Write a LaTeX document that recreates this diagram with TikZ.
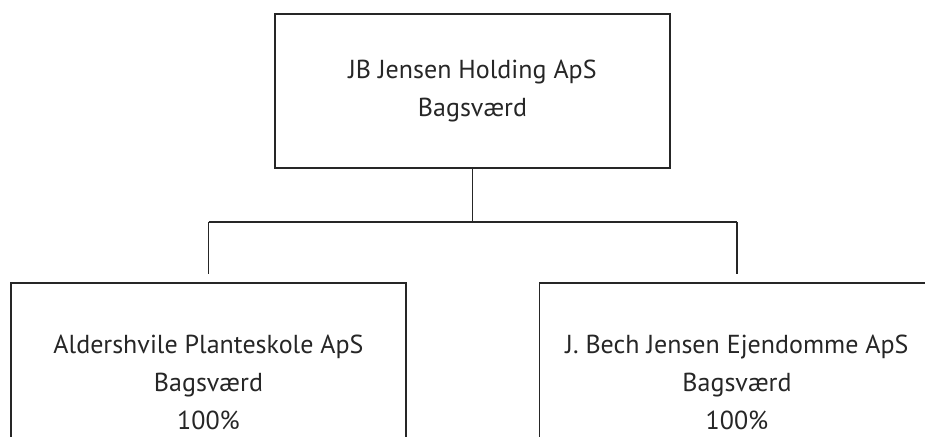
\documentclass[tikz,border=0pt]{standalone}
\usepackage{fontspec}
\setmainfont{PT Sans}
\usetikzlibrary{positioning}

\tikzset{
  firmbox/.style={draw=black!85,line width=1.7pt,align=center,text=black!85,
    font=\fontsize{26}{38}\selectfont,inner sep=0pt,minimum width=395pt},
  link/.style={draw=black!85,line width=1.7pt}
}

\begin{document}
\begin{tikzpicture}[x=1pt,y=-1pt]
\clip (0,0) rectangle (925,436);

% company boxes:
\node[firmbox,minimum height=154pt] (holding) at (472.5,91) {JB Jensen Holding ApS\\Bagsværd};
\node[firmbox,minimum height=198pt] (plant) at (208.5,382) {Aldershvile Planteskole ApS\\Bagsværd\\100\%};
\node[firmbox,minimum height=198pt] (ejendom) at (737,382) {J. Bech Jensen Ejendomme ApS\\Bagsværd\\100\%};

% ownership lines:
\coordinate[below=53pt of holding.south] (split);
\coordinate (splitL) at (split -| plant.north);
\coordinate (splitR) at (split -| ejendom.north);
\draw[link] (holding.south) -- (split);
\draw[link] (splitL) -- (splitR);
\draw[link] (splitL) -- ([yshift=8pt]plant.north);
\draw[link] (splitR) -- ([yshift=8pt]ejendom.north);

\end{tikzpicture}
\end{document}
